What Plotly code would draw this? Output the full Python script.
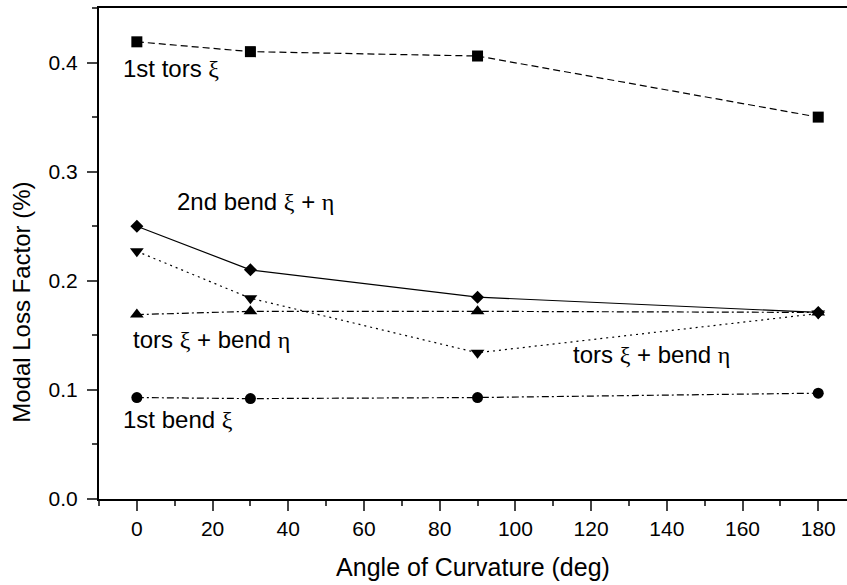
import plotly.graph_objects as go

angles = [0, 30, 90, 180]
tors1 = [0.419, 0.410, 0.406, 0.350]
bend2 = [0.250, 0.210, 0.185, 0.171]
torsbend_a = [0.227, 0.184, 0.134, 0.170]
torsbend_b = [0.169, 0.172, 0.172, 0.171]
bend1 = [0.093, 0.092, 0.093, 0.097]

FONT = "Liberation Sans, Arial, sans-serif"
GREEK = "<span style=\"font-family:'Liberation Serif'\">{}</span>"
xi = GREEK.format("ξ")
eta = GREEK.format("η")

series = [
    (tors1, "square", "7px,4px", 11),
    (bend2, "diamond", "solid", 10),
    (torsbend_a, "triangle-down", "2px,4px", 12),
    (torsbend_b, "triangle-up", "7px,3px,2px,3px", 12),
    (bend1, "circle", "7px,3px,2px,3px", 11),
]

fig = go.Figure()
for ys, sym, dash, size in series:
    fig.add_trace(go.Scatter(
        x=angles, y=ys, mode="lines+markers",
        line=dict(color="black", width=1.2, dash=dash),
        marker=dict(symbol=sym, size=size, color="black"),
        showlegend=False, cliponaxis=False,
    ))

labels = [
    (-4.2, 0.395, "1st tors " + xi),
    (10.1, 0.273, "2nd bend " + xi + " + " + eta),
    (-1.6, 0.146, "tors " + xi + " + bend " + eta),
    (114.6, 0.132, "tors " + xi + " + bend " + eta),
    (-4.2, 0.073, "1st bend " + xi),
]
for x, y, t in labels:
    fig.add_annotation(x=x, y=y, text=t, showarrow=False, xanchor="left",
                       yanchor="middle", font=dict(size=24, color="black", family=FONT))

# y-axis title (placed slightly below the axis centre, as in the reference)
fig.add_annotation(xref="paper", yref="paper", x=-0.104, y=0.40, text="Modal Loss Factor (%)",
                   textangle=-90, showarrow=False, xanchor="center", yanchor="middle",
                   font=dict(size=24, color="black", family=FONT))

fig.update_layout(
    width=847, height=585,
    margin=dict(l=99, r=0, t=8, b=86),
    paper_bgcolor="white", plot_bgcolor="white",
    font=dict(family=FONT, size=21, color="black"),
)
fig.update_xaxes(
    range=[-10, 187.6], tick0=0, dtick=20, ticks="outside", ticklen=10, tickwidth=2,
    showline=True, linewidth=2, linecolor="black", mirror=True, showgrid=False, zeroline=False,
    minor=dict(ticks="outside", ticklen=5, tickwidth=2, dtick=10, tick0=-10, showgrid=False),
    title=dict(text="Angle of Curvature (deg)", font=dict(size=25), standoff=19),
    tickfont=dict(size=21),
)
fig.update_yaxes(
    range=[0, 0.45], tick0=0, dtick=0.1, tickformat=".1f", ticks="outside", ticklen=10, tickwidth=2,
    showline=True, linewidth=2, linecolor="black", showgrid=False, zeroline=False,
    minor=dict(ticks="outside", ticklen=5, tickwidth=2, dtick=0.05, showgrid=False),
    tickfont=dict(size=21), ticklabelstandoff=5,
)
fig.write_html("out.html")
